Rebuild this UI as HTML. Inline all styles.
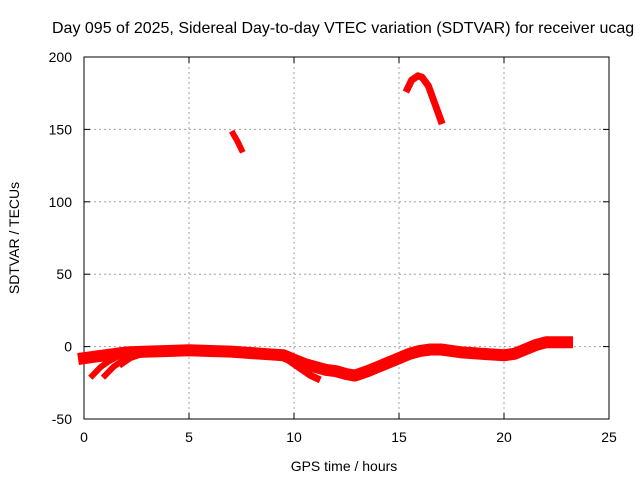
<!DOCTYPE html>
<html><head><meta charset="utf-8"><style>
body{margin:0;background:#fff;overflow:hidden;}
svg{display:block;font-family:"Liberation Sans",sans-serif;}
</style></head><body>
<svg id="chart" width="640" height="480">
<text x="52" y="33" font-size="16">Day 095 of 2025, Sidereal Day-to-day VTEC variation (SDTVAR) for receiver ucag</text>
<g id="grid"></g>
<rect x="84" y="57" width="525" height="362" fill="none" stroke="#000" stroke-width="1"/>
<g id="ticks"></g>
<g id="series"></g>
<text x="344" y="471" font-size="14" text-anchor="middle">GPS time / hours</text>
<text transform="translate(19,238) rotate(-90)" font-size="14" text-anchor="middle">SDTVAR / TECUs</text>
</svg>
<script>
const xTicks=[0,5,10,15,20,25];
const yTicks=[-50,0,50,100,150,200];
const mainX=[0,0.5,1,2,3,4,5,6,7,8,9,9.5,10,10.5,11,11.5,12,12.5,12.9,13.5,14,14.5,15,15.5,16,16.5,17,17.5,18,18.5,19,20,20.5,21,21.5,22,22.5,23];
const mainY=[-8,-7,-6,-4,-3.5,-3,-2.5,-3,-3.5,-4.5,-5.5,-6,-9,-12,-14,-16,-17,-19,-20,-17,-14,-11,-8,-5,-3,-2,-2,-3,-4,-4.5,-5,-6,-5,-2,1,3,3,3];
const branch1X=[0.4,0.8,1.2,1.6];const branch1Y=[-20,-14,-10,-7];
const branch2X=[1,1.4,1.8,2.2];const branch2Y=[-20,-14,-10,-7];
const branch3X=[1.8,2.2,2.6];const branch3Y=[-12,-8,-6];
const branch4X=[9.4,9.8,10.3,10.8,11.1];const branch4Y=[-6,-10,-15,-20,-22];
const arc1X=[7.1,7.3,7.5];const arc1Y=[147,142,136];
const arc2X=[15.4,15.6,15.9,16.1,16.4,16.7,17];const arc2Y=[178,184,187,186,180,168,156];
const X=v=>84+v*21, Y=v=>346.6-v*1.448;
const NS="http://www.w3.org/2000/svg";
const grid=document.getElementById('grid'),ticks=document.getElementById('ticks'),ser=document.getElementById('series');
function mk(t,a,p){const e=document.createElementNS(NS,t);for(const k in a)e.setAttribute(k,a[k]);p.appendChild(e);return e;}
xTicks.forEach(t=>{
 if(t>0&&t<25){const g=mk('line',{x1:X(t),x2:X(t),y1:57,y2:419,stroke:'#a0a0a0','stroke-dasharray':'2,3'},grid);
 
 }
 const l=mk('line',{x1:X(t),x2:X(t),y1:419,y2:413,stroke:'#000'},ticks);
 
 
 const l2=mk('line',{x1:X(t),x2:X(t),y1:57,y2:63,stroke:'#000'},ticks);
 
 
 const tx=mk('text',{x:X(t),y:442,'font-size':14,'text-anchor':'middle'},ticks);tx.textContent=t;
 
 
});
yTicks.forEach(t=>{
 if(t>-50&&t<200){const g=mk('line',{x1:84,x2:609,y1:Y(t),y2:Y(t),stroke:'#a0a0a0','stroke-dasharray':'2,3'},grid);
 
 }
 const l=mk('line',{x1:84,x2:90,y1:Y(t),y2:Y(t),stroke:'#000'},ticks);
 
 
 const l2=mk('line',{x1:603,x2:609,y1:Y(t),y2:Y(t),stroke:'#000'},ticks);
 
 
 const tx=mk('text',{x:72,y:Y(t)+5,'font-size':14,'text-anchor':'end'},ticks);tx.textContent=t;
 
 
});
function line(xs,ys,w,name){
 const p=mk('polyline',{points:xs.map((x,i)=>X(x)+','+Y(ys[i])).join(' '),fill:'none',stroke:'#ff0000','stroke-width':w,'stroke-linejoin':'round','stroke-linecap':'square'},ser);
 
 
}
line(mainX,mainY,12,'main-band');
line(branch1X,branch1Y,6,'branch-1');
line(branch2X,branch2Y,6,'branch-2');
line(branch3X,branch3Y,6,'branch-3');
line(branch4X,branch4Y,7,'branch-4');
line(arc1X,arc1Y,6,'arc-1');
line(arc2X,arc2Y,7,'arc-2');
</script>
</body></html>
